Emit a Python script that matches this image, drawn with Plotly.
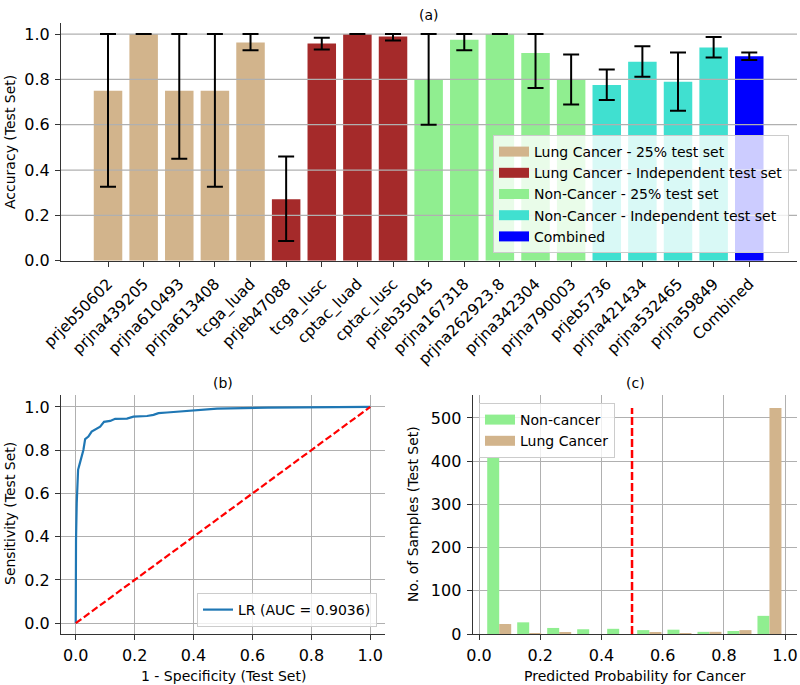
import plotly.graph_objects as go

# ---------------- (a) accuracy per dataset ----------------
datasets = ["prjeb50602", "prjna439205", "prjna610493", "prjna613408", "tcga_luad",
            "prjeb47088", "tcga_lusc", "cptac_luad", "cptac_lusc",
            "prjeb35045", "prjna167318", "prjna262923.8", "prjna342304", "prjna790003",
            "prjeb5736", "prjna421434", "prjna532465", "prjna59849", "Combined"]
groups = ["Lung Cancer - 25% test set"] * 5 + ["Lung Cancer - Independent test set"] * 4 + \
         ["Non-Cancer - 25% test set"] * 5 + ["Non-Cancer - Independent test set"] * 4 + ["Combined"]
accuracy = [0.75, 1.0, 0.75, 0.75, 0.963,
            0.271, 0.958, 1.0, 0.989,
            0.80, 0.975, 1.0, 0.916, 0.80,
            0.775, 0.878, 0.789, 0.941, 0.902]
ci_low = [0.326, 1.0, 0.45, 0.326, 0.929,
          0.087, 0.932, 1.0, 0.971,
          0.60, 0.929, 1.0, 0.762, 0.689,
          0.709, 0.811, 0.662, 0.896, 0.885]
ci_high = [1.0, 1.0, 1.0, 1.0, 1.0,
           0.46, 0.984, 1.0, 1.0,
           1.0, 1.0, 1.0, 1.0, 0.91,
           0.844, 0.946, 0.919, 0.987, 0.919]
group_names = ["Lung Cancer - 25% test set", "Lung Cancer - Independent test set",
               "Non-Cancer - 25% test set", "Non-Cancer - Independent test set", "Combined"]
group_colors = ["#D2B48C", "#A52A2A", "#90EE90", "#40E0D0", "#0000FF"]
acc_ticks = [0.0, 0.2, 0.4, 0.6, 0.8, 1.0]

# ---------------- (b) ROC ----------------
fpr = [0.0, 0.0, 0.001, 0.0034, 0.008, 0.0125, 0.026, 0.032, 0.043, 0.054, 0.066, 0.083,
       0.096, 0.117, 0.134, 0.174, 0.196, 0.242, 0.264, 0.281, 0.31, 0.367, 0.4, 0.48,
       0.65, 1.0]
tpr = [0.0, 0.2, 0.385, 0.555, 0.709, 0.732, 0.801, 0.851, 0.863, 0.886, 0.897, 0.909,
       0.931, 0.935, 0.945, 0.946, 0.955, 0.958, 0.963, 0.971, 0.974, 0.98, 0.986, 0.992,
       0.997, 1.0]
roc_label = "LR (AUC = 0.9036)"

# ---------------- (c) histogram of predicted probability ----------------
bin_edges = [0.017, 0.115, 0.213, 0.311, 0.409, 0.507, 0.606, 0.704, 0.802, 0.900, 0.998]
noncancer_counts = [409, 27, 14, 11, 12, 9, 10, 5, 7, 42]
cancer_counts = [23, 2, 4, 0, 0, 4, 2, 5, 9, 523]
hist_names = ["Non-cancer", "Lung Cancer"]
hist_colors = ["#90EE90", "#D2B48C"]
threshold = 0.5

FONT = "DejaVu Sans"
W, H = 800, 685
GRID = "#b0b0b0"
AX = "#333333"


def px_x(p):
    return p / W


def px_y(p):
    return 1 - p / H


def legend_patch(name, color, legend, xa, ya):
    # legend proxy drawn as a wide patch (like matplotlib's rectangle handle)
    return go.Scatter(x=[None], y=[None], mode="lines", line=dict(color=color, width=10),
                      name=name, legend=legend, legendgroup=name, xaxis=xa, yaxis=ya,
                      hoverinfo="skip")


fig = go.Figure()

# bars for (a)
for gname, gcol in zip(group_names, group_colors):
    idx = [i for i, g in enumerate(groups) if g == gname]
    fig.add_trace(go.Bar(
        x=idx, y=[accuracy[i] for i in idx], width=0.8,
        marker=dict(color=gcol, line=dict(width=0)),
        name=gname, showlegend=False,
        xaxis="x", yaxis="y", hoverinfo="skip"))
for gname, gcol in zip(group_names, group_colors):
    fig.add_trace(legend_patch(gname, gcol, "legend", "x", "y"))

# grid lines above bars in (a)
gx, gy = [], []
for t in acc_ticks[1:]:
    gx += [-1.32, 19.34, None]
    gy += [t, t, None]
fig.add_trace(go.Scatter(x=gx, y=gy, mode="lines", line=dict(color=GRID, width=1.2),
                         showlegend=False, hoverinfo="skip", xaxis="x", yaxis="y"))

# error bars for (a)
fig.add_trace(go.Scatter(
    x=list(range(len(datasets))), y=accuracy, mode="markers",
    marker=dict(size=1, opacity=0),
    error_y=dict(type="data", symmetric=False,
                 array=[h - a for h, a in zip(ci_high, accuracy)],
                 arrayminus=[a - l for a, l in zip(accuracy, ci_low)],
                 color="black", thickness=2, width=8),
    showlegend=False, hoverinfo="skip", xaxis="x", yaxis="y"))

# ROC
fig.add_trace(go.Scatter(x=fpr, y=tpr, mode="lines", line=dict(color="#1f77b4", width=2.2),
                         name=roc_label, legend="legend2", xaxis="x2", yaxis="y2"))
fig.add_trace(go.Scatter(x=[0, 1], y=[0, 1], mode="lines",
                         line=dict(color="red", width=2.2, dash="7px,3px"),
                         showlegend=False, xaxis="x2", yaxis="y2"))

# histogram (side-by-side bars like matplotlib multi-dataset hist)
centers = [(a + b) / 2 for a, b in zip(bin_edges[:-1], bin_edges[1:])]
bws = [b - a for a, b in zip(bin_edges[:-1], bin_edges[1:])]
for k, (counts, hname, hcol) in enumerate(zip([noncancer_counts, cancer_counts], hist_names, hist_colors)):
    sgn = -1 if k == 0 else 1
    fig.add_trace(go.Bar(x=[c + sgn * 0.2 * w for c, w in zip(centers, bws)], y=counts,
                         width=[0.4 * w for w in bws], marker=dict(color=hcol, line=dict(width=0)),
                         name=hname, showlegend=False, xaxis="x3", yaxis="y3", hoverinfo="skip"))
    fig.add_trace(legend_patch(hname, hcol, "legend3", "x3", "y3"))
fig.add_trace(go.Scatter(x=[threshold, threshold], y=[0, max(cancer_counts)], mode="lines",
                         line=dict(color="red", width=2.5, dash="8px,3px"),
                         showlegend=False, xaxis="x3", yaxis="y3", hoverinfo="skip"))

tickfont = dict(family=FONT, size=16, color="black")
common = dict(showline=True, linecolor=AX, linewidth=1.2, mirror=False,
              ticks="outside", ticklen=5, tickwidth=1.2, tickcolor=AX,
              tickfont=tickfont, zeroline=False, ticklabelstandoff=2, automargin=False)

leg_common = dict(bgcolor="rgba(255,255,255,0.8)", bordercolor="#cccccc", borderwidth=1,
                  font=dict(family=FONT, size=14), itemwidth=30, tracegroupgap=0)

fig.update_layout(
    width=W, height=H, margin=dict(l=0, r=0, t=0, b=0, autoexpand=False),
    paper_bgcolor="white", plot_bgcolor="white",
    barmode="overlay", font=dict(family=FONT, size=14, color="black"),
    xaxis=dict(domain=[px_x(61), px_x(797)], range=[-1.32, 19.34],
               tickvals=list(range(len(datasets))), ticktext=datasets, tickangle=-45,
               showgrid=False, anchor="y", **{**common, "tickfont": dict(family=FONT, size=15.5, color="black")}),
    yaxis=dict(domain=[px_y(260.7), px_y(22.7)], range=[0, 1.05], tickvals=acc_ticks,
               tickformat=".1f", showgrid=False, anchor="x", **common),
    xaxis2=dict(domain=[px_x(61), px_x(385)], range=[-0.05, 1.05], tickvals=acc_ticks,
                tickformat=".1f", showgrid=True, gridcolor=GRID, gridwidth=1.1, anchor="y2", **common),
    yaxis2=dict(domain=[px_y(634), px_y(395)], range=[-0.05, 1.055], tickvals=acc_ticks,
                tickformat=".1f", showgrid=True, gridcolor=GRID, gridwidth=1.1, anchor="x2", **common),
    xaxis3=dict(domain=[px_x(472.7), px_x(797)], range=[-0.0206, 1.039], tickvals=acc_ticks,
                tickformat=".1f", showgrid=True, gridcolor=GRID, gridwidth=1.1, anchor="y3", **common),
    yaxis3=dict(domain=[px_y(634), px_y(395)], range=[0, 553], tickvals=[0, 100, 200, 300, 400, 500],
                showgrid=True, gridcolor=GRID, gridwidth=1.1, anchor="x3", **common),
    legend=dict(x=px_x(789), xanchor="right", y=px_y(253), yanchor="bottom", **leg_common),
    legend2=dict(x=px_x(377), xanchor="right", y=px_y(627), yanchor="bottom", **leg_common),
    legend3=dict(x=px_x(479), xanchor="left", y=px_y(403), yanchor="top", **leg_common),
)

ann = [
    dict(text="(a)", x=px_x(429), y=px_y(15), xanchor="center", yanchor="middle"),
    dict(text="(b)", x=px_x(223), y=px_y(383), xanchor="center", yanchor="middle"),
    dict(text="(c)", x=px_x(635), y=px_y(383), xanchor="center", yanchor="middle"),
    dict(text="Accuracy (Test Set)", x=px_x(10), y=px_y(142), xanchor="center", yanchor="middle", textangle=-90),
    dict(text="Sensitivity (Test Set)", x=px_x(10), y=px_y(514), xanchor="center", yanchor="middle", textangle=-90),
    dict(text="No. of Samples (Test Set)", x=px_x(413), y=px_y(514), xanchor="center", yanchor="middle", textangle=-90),
    dict(text="1 - Specificity (Test Set)", x=px_x(223), y=px_y(676), xanchor="center", yanchor="middle"),
    dict(text="Predicted Probability for Cancer", x=px_x(635), y=px_y(676), xanchor="center", yanchor="middle"),
]
for a in ann:
    a.update(xref="paper", yref="paper", showarrow=False, font=dict(family=FONT, size=14, color="black"))
fig.update_layout(annotations=ann)

fig.write_html("out.html")
